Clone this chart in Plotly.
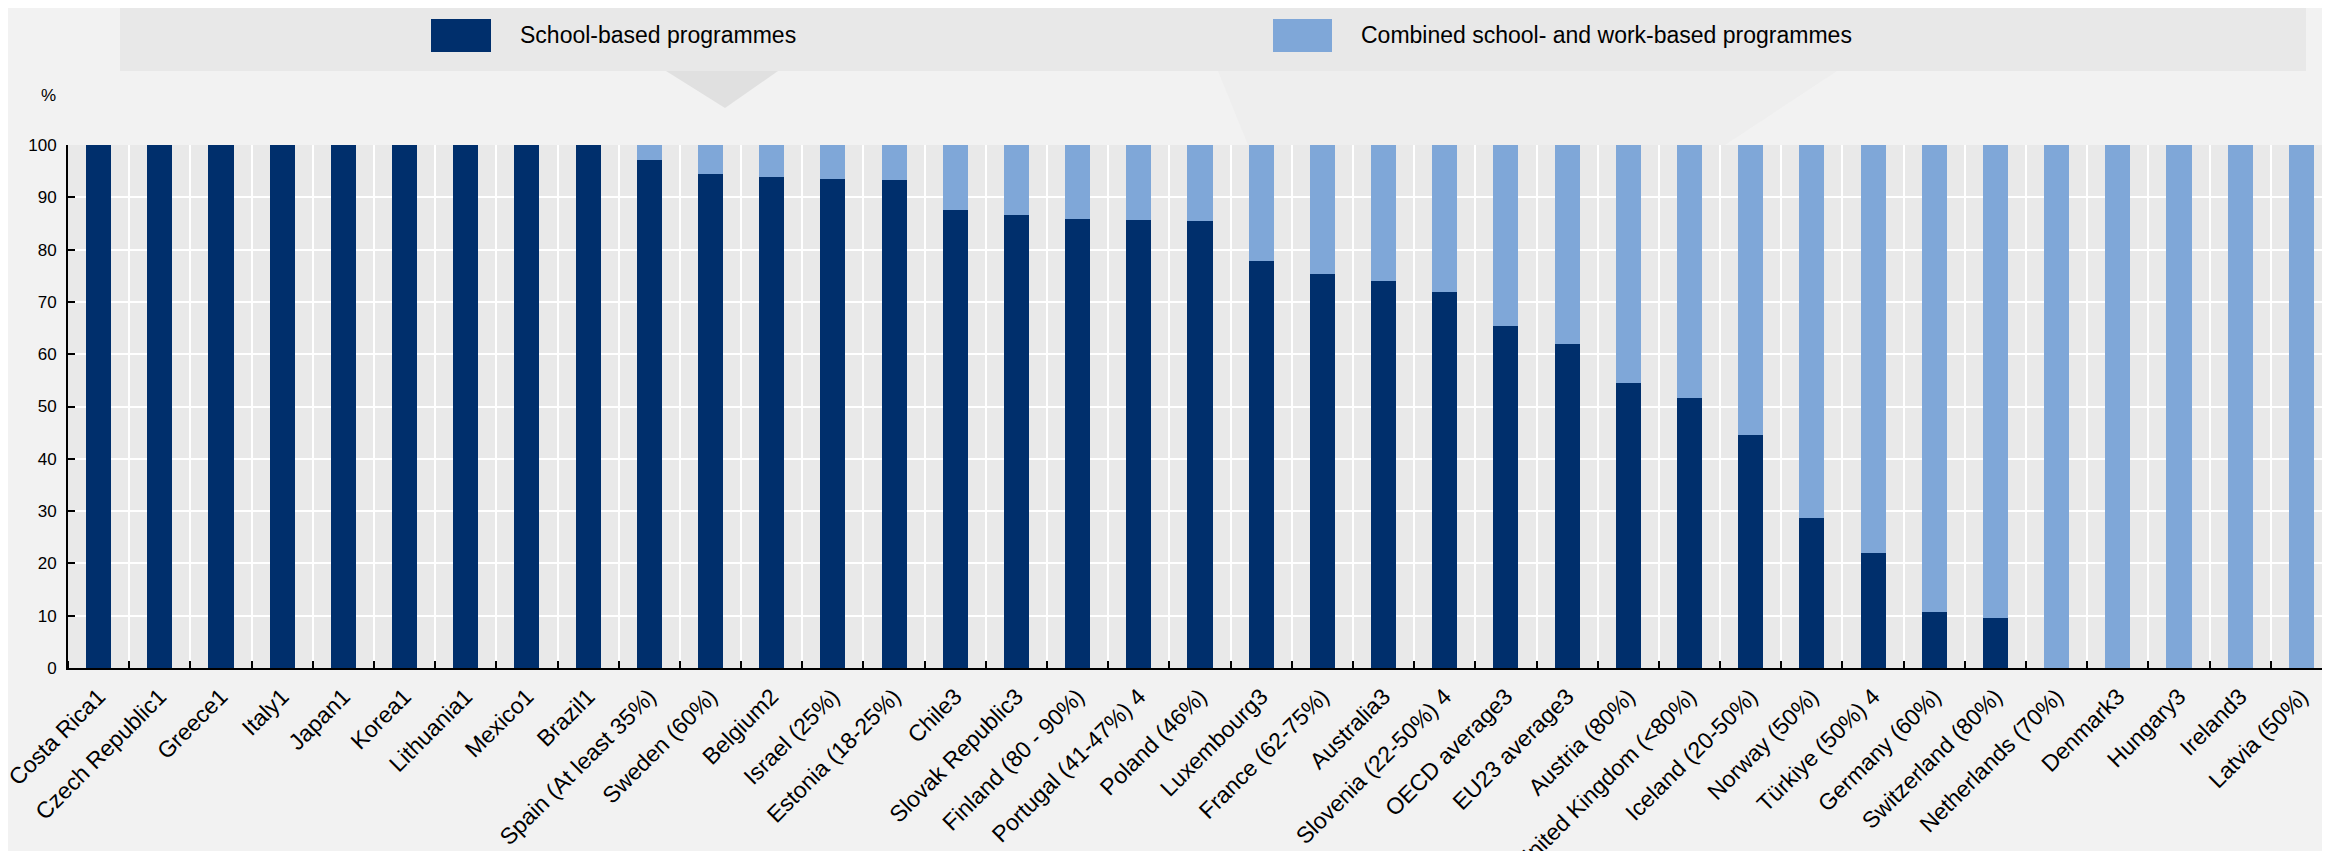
import plotly.graph_objects as go

categories = ["Costa Rica1", "Czech Republic1", "Greece1", "Italy1", "Japan1", "Korea1",
              "Lithuania1", "Mexico1", "Brazil1", "Spain (At least 35%)", "Sweden (60%)",
              "Belgium2", "Israel (25%)", "Estonia (18-25%)", "Chile3", "Slovak Republic3",
              "Finland (80 - 90%)", "Portugal (41-47%) 4", "Poland (46%)", "Luxembourg3",
              "France (62-75%)", "Australia3", "Slovenia (22-50%) 4", "OECD average3",
              "EU23 average3", "Austria (80%)", "United Kingdom (<80%)", "Iceland (20-50%)",
              "Norway (50%)", "Türkiye (50%) 4", "Germany (60%)", "Switzerland (80%)",
              "Netherlands (70%)", "Denmark3", "Hungary3", "Ireland3", "Latvia (50%)"]

school_based = [100, 100, 100, 100, 100, 100, 100, 100, 100, 97.1, 94.4, 93.9, 93.5, 93.4,
                87.6, 86.6, 85.9, 85.6, 85.4, 77.9, 75.4, 74.0, 71.9, 65.4, 62.0, 54.4,
                51.7, 44.5, 28.7, 21.9, 10.8, 9.6, 0, 0, 0, 0, 0]

combined = [0, 0, 0, 0, 0, 0, 0, 0, 0, 2.9, 5.6, 6.1, 6.5, 6.6, 12.4, 13.4, 14.1, 14.4,
            14.6, 22.1, 24.6, 26.0, 28.1, 34.6, 38.0, 45.6, 48.3, 55.5, 71.3, 78.1, 89.2,
            90.4, 100, 100, 100, 100, 100]

series_names = ["School-based programmes", "Combined school- and work-based programmes"]
y_ticks = [0, 10, 20, 30, 40, 50, 60, 70, 80, 90, 100]

DARK = "#002F6C"
LIGHT = "#7FA7D8"
FONT = "Liberation Sans, Arial, sans-serif"

W, H = 2330, 851
L, R, T, B = 60, 6, 137, 191
PW, PH = W - L - R, H - T - B

positions = list(range(len(categories)))


def px(x):
    return (x - L) / PW


def py(y):
    return (H - B - y) / PH


fig = go.Figure()
fig.add_trace(go.Bar(x=positions, y=school_based, name=series_names[0],
                     customdata=categories, hovertemplate="%{customdata}: %{y}<extra></extra>",
                     marker=dict(color=DARK, line=dict(width=0))))
fig.add_trace(go.Bar(x=positions, y=combined, name=series_names[1],
                     customdata=categories, hovertemplate="%{customdata}: %{y}<extra></extra>",
                     marker=dict(color=LIGHT, line=dict(width=0))))

shapes = []
shapes.append(dict(type="path", xref="paper", yref="paper", layer="below",
                   path=f"M {px(1210)} {py(63)} L {px(1829)} {py(63)} L {px(1717)} {py(137)} L {px(1240)} {py(137)} Z",
                   fillcolor="#EEEEEE", line=dict(width=0)))
shapes.append(dict(type="rect", xref="paper", yref="paper", layer="below",
                   x0=px(112), x1=px(2298), y0=py(63), y1=py(-5),
                   fillcolor="#E8E8E8", line=dict(width=0)))
shapes.append(dict(type="path", xref="paper", yref="paper", layer="below",
                   path=f"M {px(658)} {py(63)} L {px(770)} {py(63)} L {px(717)} {py(100)} Z",
                   fillcolor="#E0E0E0", line=dict(width=0)))
shapes.append(dict(type="rect", xref="paper", yref="paper",
                   x0=px(423), x1=px(483), y0=py(44), y1=py(11),
                   fillcolor=DARK, line=dict(width=0)))
shapes.append(dict(type="rect", xref="paper", yref="paper",
                   x0=px(1265), x1=px(1324), y0=py(44), y1=py(11),
                   fillcolor=LIGHT, line=dict(width=0)))

annotations = [
    dict(text=series_names[0], xref="paper", yref="paper", x=px(510), y=py(27),
         xanchor="left", yanchor="middle", showarrow=False,
         font=dict(family=FONT, size=23, color="#000000")),
    dict(text=series_names[1], xref="paper", yref="paper", x=px(1351), y=py(27),
         xanchor="left", yanchor="middle", showarrow=False,
         font=dict(family=FONT, size=23, color="#000000")),
    dict(text="%", xref="paper", yref="paper", x=px(40), y=py(88),
         xanchor="center", yanchor="middle", showarrow=False,
         font=dict(family=FONT, size=17, color="#000000")),
]

fig.update_layout(
    width=W, height=H,
    margin=dict(l=L, r=R, t=T, b=B, autoexpand=False),
    paper_bgcolor="#F2F2F2",
    plot_bgcolor="#E9E9E9",
    barmode="stack",
    bargap=0.59,
    showlegend=False,
    shapes=shapes,
    annotations=annotations,
    font=dict(family=FONT, color="#000000"),
    xaxis=dict(
        range=[-0.5, len(categories) - 0.5],
        tickmode="array", tickvals=positions, ticktext=categories,
        showgrid=False, ticks="",
        minor=dict(tickmode="linear", tick0=-0.5, dtick=1, showgrid=True,
                   gridcolor="#FFFFFF", gridwidth=2,
                   ticks="inside", ticklen=7, tickwidth=2, tickcolor="#000000"),
        showline=True, linecolor="#000000", linewidth=2, zeroline=False,
        tickangle=-45, tickfont=dict(family=FONT, size=23, color="#000000"),
        automargin=False, ticklabelstandoff=4, ticklabeloverflow="allow",
    ),
    yaxis=dict(
        range=[0, 100], tickvals=y_ticks, showgrid=True, gridcolor="#FFFFFF", gridwidth=2,
        ticks="inside", ticklen=7, tickwidth=2, tickcolor="#000000",
        showline=True, linecolor="#000000", linewidth=2, zeroline=False,
        tickfont=dict(family=FONT, size=17, color="#000000"),
        automargin=False, ticklabelstandoff=6,
    ),
)

fig.write_html("out.html")
